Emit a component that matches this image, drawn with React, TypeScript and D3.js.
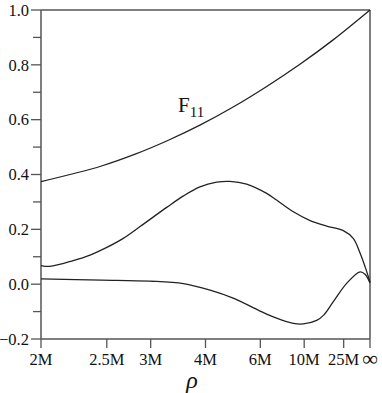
import React from "react";
import * as d3 from "d3";

// x axis uses compactified coordinate u = 1 - 2M/rho
const xTickRho = [2, 2.5, 3, 4, 6, 10, 25, Infinity];
const xTickLabels = ["2M", "2.5M", "3M", "4M", "6M", "10M", "25M", "∞"];
const yMajor = [-0.2, 0.0, 0.2, 0.4, 0.6, 0.8, 1.0];
const yMinor = [-0.1, 0.1, 0.3, 0.5, 0.7, 0.9];

const f11U = [0, 0.184, 0.286, 0.387, 0.483, 0.584, 0.686, 0.787, 0.888, 1.0];
const f11V = [0.374, 0.431, 0.474, 0.525, 0.58, 0.646, 0.721, 0.802, 0.891, 1.0];

const midU = [0, 0.027, 0.098, 0.149, 0.2, 0.25, 0.301, 0.382, 0.433, 0.483, 0.534, 0.574, 0.625, 0.686, 0.716, 0.767, 0.818, 0.868, 0.919, 0.949, 0.97, 0.985, 1.0];
const midV = [0.068, 0.065, 0.086, 0.106, 0.134, 0.167, 0.21, 0.28, 0.322, 0.355, 0.372, 0.375, 0.365, 0.331, 0.307, 0.264, 0.232, 0.212, 0.195, 0.167, 0.113, 0.064, 0.008];

const lowU = [0, 0.184, 0.331, 0.433, 0.514, 0.584, 0.666, 0.716, 0.767, 0.797, 0.838, 0.86, 0.888, 0.929, 0.97, 0.985, 1.0];
const lowV = [0.019, 0.015, 0.011, 0.002, -0.022, -0.051, -0.098, -0.124, -0.143, -0.145, -0.132, -0.112, -0.065, 0.003, 0.045, 0.036, 0.004];

const toU = (r: number) => (isFinite(r) ? 1 - 2 / r : 1);

export default function App() {
  const L = 41, R = 370, T = 10, B = 339;
  const x = d3.scaleLinear().domain([0, 1]).range([L, R]);
  const y = d3.scaleLinear().domain([-0.2, 1]).range([B, T]);
  const line = d3
    .line<[number, number]>()
    .x((d) => x(d[0]))
    .y((d) => y(d[1]))
    .curve(d3.curveCatmullRom.alpha(0.5));
  const series = [
    { u: f11U, v: f11V },
    { u: midU, v: midV },
    { u: lowU, v: lowV },
  ];
  const axisColor = "#555";
  const font = "'Liberation Serif', 'DejaVu Serif', serif";
  return (
    <svg
      width={382}
      height={393}
      style={{ position: "absolute", left: 0, top: 0, background: "#fff" }}
      fontFamily={font}
    >
      {/* frame */}
      <line x1={L} y1={T} x2={R} y2={T} stroke={axisColor} strokeWidth={1.5} />
      <line x1={R} y1={T} x2={R} y2={B} stroke={axisColor} strokeWidth={1.5} />
      <line x1={L} y1={T} x2={L} y2={B} stroke={axisColor} strokeWidth={1.5} />
      <line x1={L} y1={B} x2={R} y2={B} stroke={axisColor} strokeWidth={1.5} />
      {/* y ticks */}
      {yMajor.map((v) => (
        <g key={"ym" + v}>
          <line x1={L - 10} x2={L} y1={y(v)} y2={y(v)} stroke={axisColor} strokeWidth={1.3} />
          <text x={L - 12} y={y(v)} dy="0.35em" textAnchor="end" fontSize={16.5} fill="#111">
            {v < 0 ? "\u2212" + Math.abs(v).toFixed(1) : v.toFixed(1)}
          </text>
        </g>
      ))}
      {yMinor.map((v) => (
        <line key={"yn" + v} x1={L - 8} x2={L} y1={y(v)} y2={y(v)} stroke={axisColor} strokeWidth={1.3} />
      ))}
      {/* x ticks */}
      {xTickRho.map((r, i) => (
        <g key={"x" + i}>
          <line x1={x(toU(r))} x2={x(toU(r))} y1={B} y2={B + 9} stroke={axisColor} strokeWidth={1.3} />
          <text
            x={x(toU(r))}
            y={xTickLabels[i] === "∞" ? 366 : 365}
            textAnchor="middle"
            fontSize={xTickLabels[i] === "∞" ? 22 : 16.5}
            fill="#111"
          >
            {xTickLabels[i]}
          </text>
        </g>
      ))}
      <text x={192} y={388} textAnchor="middle" fontSize={24} fontStyle="italic" fill="#111">
        ρ
      </text>
      {/* curves */}
      {series.map((s, i) => (
        <path
          key={i}
          d={line(s.u.map((u, j) => [u, s.v[j]] as [number, number])) || ""}
          fill="none"
          stroke="#222"
          strokeWidth={1.3}
        />
      ))}
      <text x={178} y={112} fontSize={21} fill="#111">
        F<tspan fontSize={15} dy={5}>11</tspan>
      </text>
    </svg>
  );
}
